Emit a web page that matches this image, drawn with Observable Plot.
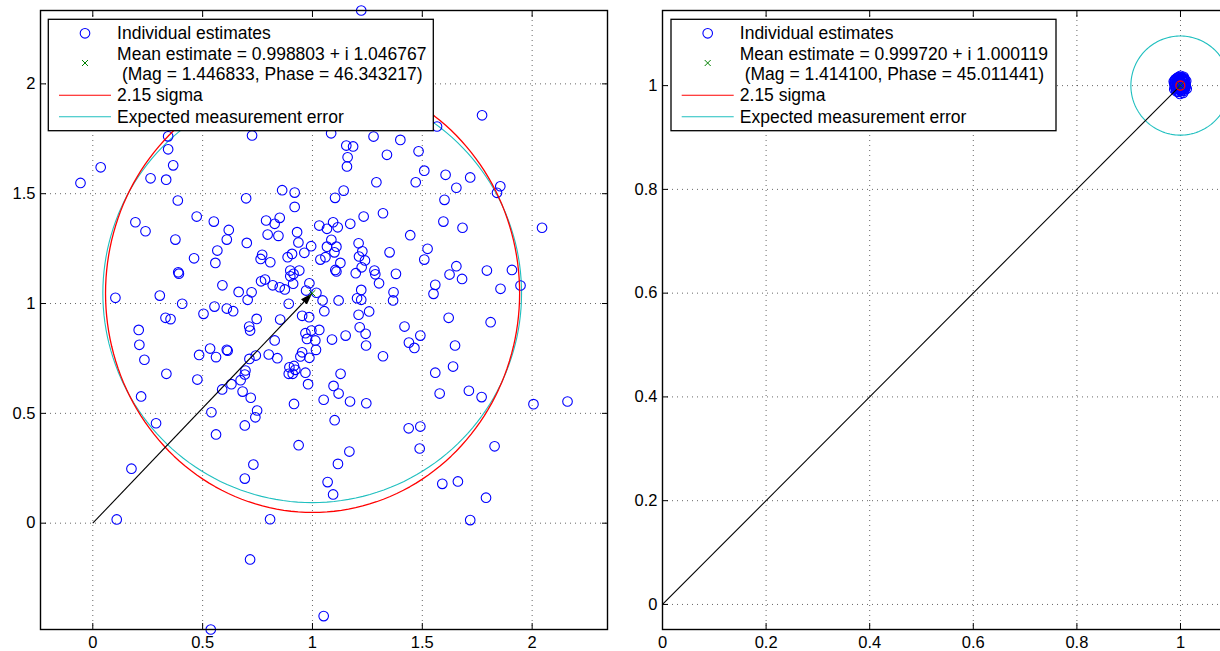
<!DOCTYPE html>
<html><head><meta charset="utf-8">
<script src="https://cdn.jsdelivr.net/npm/d3@7"></script>
<script src="https://cdn.jsdelivr.net/npm/@observablehq/plot@0.6"></script>
<style>
html,body{margin:0;padding:0;background:#fff;overflow:hidden;width:1220px;height:651px;}
#wrap{position:relative;width:1220px;height:651px;overflow:hidden;font-family:"Liberation Sans",Arial,Helvetica,sans-serif;}
#wrap svg{position:absolute;top:0;}
</style></head><body><div id="wrap"></div>
<script>
// ---------- Left panel: individual estimates (real, imag) ----------
const leftX = [0.343,0.725,0.343,0.036,0.366,-0.056,0.263,0.334,0.387,0.698,0.862,0.919,0.919,
1.222,1.772,1.567,1.085,1.278,1.400,1.154,1.185,1.160,1.157,1.339,1.483,1.509,1.606,1.718,1.655,1.855,1.840,1.601,1.470,1.291,1.142,1.103,
0.194,0.240,0.376,0.473,0.551,0.619,0.610,0.701,0.567,0.558,0.461,0.389,0.392,0.590,0.664,0.723,0.705,0.789,0.828,0.851,0.796,0.845,0.930,0.936,0.994,0.963,1.031,0.771,0.764,0.808,0.887,0.907,0.899,0.914,0.940,1.036,0.899,0.912,0.766,0.784,0.819,0.851,0.874,0.986,0.971,1.046,0.892,0.103,0.305,0.407,0.554,0.504,0.610,0.639,0.331,0.354,0.746,0.712,0.716,0.853,0.953,0.985,0.209,0.212,0.235,0.335,0.476,0.484,0.534,0.561,0.610,0.614,0.713,0.742,0.801,0.840,0.828,0.968,0.995,1.031,0.975,1.013,1.016,0.953,0.945,0.986,0.895,0.916,0.922,0.892,0.910,0.968,0.980,0.695,0.692,0.673,0.631,0.589,0.682,0.719,0.220,0.916,0.540,0.748,0.740,1.018,
1.066,1.094,1.115,1.172,1.233,1.321,1.086,1.066,1.109,1.100,1.059,1.127,1.104,1.109,1.210,1.227,1.212,1.239,1.224,1.197,1.282,1.286,1.303,1.380,1.351,1.445,1.524,1.509,1.596,1.683,1.222,1.203,1.222,1.119,1.054,1.369,1.367,1.258,1.210,1.215,1.242,1.244,1.151,1.089,1.321,1.419,1.491,1.439,1.464,1.559,1.551,1.624,1.655,1.681,1.794,1.856,1.908,1.947,2.045,1.620,1.811,1.649,1.640,1.559,1.579,1.712,1.770,2.006,2.161,1.128,1.096,1.119,1.051,1.171,1.245,1.101,
0.288,0.692,0.561,0.937,0.731,0.692,0.176,0.109,0.807,0.716,0.537,
1.438,1.491,1.488,1.168,1.116,1.069,1.094,1.591,1.662,1.829,1.790,1.718,1.051];
const leftY = [1.761,1.765,1.702,1.620,1.629,1.549,1.570,1.564,1.469,1.479,1.516,1.505,1.440,
2.334,1.857,1.806,1.775,1.760,1.745,1.719,1.715,1.666,1.624,1.677,1.693,1.605,1.586,1.574,1.527,1.534,1.504,1.472,1.552,1.552,1.514,1.481,
1.370,1.329,1.291,1.396,1.373,1.335,1.291,1.276,1.241,1.185,1.206,1.142,1.136,1.083,1.053,1.051,1.017,1.378,1.363,1.390,1.314,1.308,1.325,1.278,1.261,1.231,1.355,1.222,1.203,1.188,1.211,1.226,1.150,1.135,1.150,1.200,1.124,1.090,1.101,1.109,1.083,1.074,1.064,1.092,1.059,1.014,0.999,1.026,1.036,0.999,0.986,0.953,0.977,0.965,0.935,0.929,0.930,0.895,0.877,0.927,0.944,0.938,0.880,0.812,0.744,0.680,0.654,0.766,0.795,0.756,0.789,0.785,0.748,0.763,0.768,0.751,0.832,0.865,0.877,0.880,0.839,0.832,0.789,0.778,0.759,0.753,0.710,0.716,0.698,0.680,0.680,0.685,0.633,0.695,0.677,0.651,0.633,0.609,0.599,0.571,0.577,0.543,0.505,0.513,0.482,1.049,
1.340,1.370,1.347,1.363,1.396,1.411,1.290,1.259,1.259,1.233,1.211,1.185,1.153,1.146,1.274,1.238,1.214,1.196,1.165,1.138,1.150,1.133,1.092,1.135,1.233,1.311,1.249,1.200,1.373,1.345,1.062,1.024,1.017,1.014,0.965,1.051,1.014,0.964,0.949,0.892,0.862,0.809,0.854,0.836,0.760,0.895,0.854,0.822,0.798,1.085,1.044,1.132,1.170,1.112,1.150,1.067,1.153,1.082,1.345,0.935,0.915,0.809,0.713,0.685,0.590,0.603,0.574,0.542,0.554,0.680,0.625,0.590,0.562,0.554,0.546,0.469,
0.455,0.445,0.404,0.355,0.267,0.203,0.248,0.017,0.018,-0.165,-0.484,
0.432,0.440,0.340,0.326,0.270,0.187,0.131,0.179,0.190,0.350,0.116,0.014,-0.423];
const leftMean = [0.998803, 1.046767];
const leftSigmaCenter = [1.0005, 1.0468];
const leftSigmaRadii = [0.9425, 0.998];
const leftExpectedRadius = 0.953;
const leftXDomain = [-0.238, 2.343];
const leftYDomain = [-0.484, 2.334];
const leftXTicks = [0, 0.5, 1, 1.5, 2];
const leftYTicks = [0, 0.5, 1, 1.5, 2];

// ---------- Right panel ----------
const rightX = [1.000,0.995,1.006,0.992,1.003,0.998,1.009,0.990,1.002,0.996,1.011,0.988,1.005,0.994,1.008,0.991,1.001,0.997,1.004,0.993,1.010,0.999,1.007,0.989,1.003,0.996,1.012,0.992,1.000,1.006,0.987,0.998,1.002,0.995,1.009,
0.993,1.004,0.999,0.990,1.007,0.996,1.001,0.988,1.010,0.994,1.003,0.997,1.006,0.991,1.000,1.008,0.995,0.989,1.005,0.998,1.002,0.993,1.009,0.996,1.004,0.991,1.001,0.997,1.007,0.994,0.999,1.003,0.990,1.006,0.996];
const rightY = [1.000,1.008,1.004,0.997,0.991,1.013,0.996,1.005,1.016,0.988,1.009,0.993,0.986,1.015,1.012,1.011,1.006,0.995,0.998,1.002,1.001,0.984,0.990,0.999,1.010,1.004,0.994,0.989,1.019,1.017,1.008,0.992,1.002,0.999,1.007,
1.003,1.013,1.009,1.001,1.003,0.994,0.997,1.004,0.998,1.007,1.015,1.017,1.009,0.993,0.993,0.993,1.011,1.010,1.001,1.004,1.012,1.014,1.002,1.001,0.994,0.996,0.989,1.009,1.014,1.006,0.996,1.005,1.012,0.997,1.016];
const rightMean = [0.999720, 1.000119];
const rightSigmaRadii = [0.0085, 0.0088];
const rightExpectedRadius = 0.0955;
const rightXDomain = [0, 1.1448];
const rightYDomain = [-0.0483, 1.1448];
const rightTicks = [0, 0.2, 0.4, 0.6, 0.8, 1];

const origin = [0, 0];
const legendLeft = ["Individual estimates", "Mean estimate = 0.998803 + i 1.046767", " (Mag = 1.446833, Phase = 46.343217)", "2.15 sigma", "Expected measurement error"];
const legendRight = ["Individual estimates", "Mean estimate = 0.999720 + i 1.000119", " (Mag = 1.414100, Phase = 45.011441)", "2.15 sigma", "Expected measurement error"];

const BLUE = "#0000ff", RED = "#ff0000", CYAN = "#1fbfbf", GREEN = "#008000";

function ellipse(c, rx, ry) {
  return d3.range(0, 361, 2).map(a => [c[0] + rx * Math.cos(a * Math.PI / 180), c[1] + ry * Math.sin(a * Math.PI / 180)]);
}

function fillArrowMarkers(svg) {
  svg.querySelectorAll("marker").forEach(m => {
    m.setAttribute("viewBox", "-12 -5 12 10");
    m.setAttribute("markerUnits", "userSpaceOnUse");
    m.setAttribute("markerWidth", "12");
    m.setAttribute("markerHeight", "10");
    m.setAttribute("refX", "0");
    m.setAttribute("refY", "0");
    m.setAttribute("fill", "black");
    m.setAttribute("stroke", "none");
    const p = m.querySelector("path");
    if (p) p.setAttribute("d", "M-12,-4L0,0L-12,4Z");
  });
}

function panel({xs, ys, mean, sigmaCenter, sigmaRadii, expectedRadius, xDomain, yDomain, xTicks, yTicks, width, marginLeft, marginRight, tight}) {
  const gridStyle = {stroke: "#000", strokeOpacity: 0.6, strokeDasharray: "1,4"};
  const fmt = d => String(d);
  const cyanPts = ellipse(mean, expectedRadius, expectedRadius);
  const redPts = ellipse(sigmaCenter, sigmaRadii[0], sigmaRadii[1]);
  const dotsMark = Plot.dot(xs, {x: d => d, y: (d, i) => ys[i], r: 4.8, stroke: BLUE, fill: "none", strokeWidth: 1.1});
  const marks = [
    Plot.gridX(xTicks, gridStyle),
    Plot.gridY(yTicks, gridStyle),
  ];
  if (tight) {
    marks.push(
      Plot.line(cyanPts, {x: d => d[0], y: d => d[1], stroke: CYAN, strokeWidth: 1.1}),
      dotsMark,
      Plot.link([mean], {x1: () => origin[0], y1: () => origin[1], x2: d => d[0], y2: d => d[1], stroke: "black", strokeWidth: 1.1}),
      Plot.line(redPts, {x: d => d[0], y: d => d[1], stroke: RED, strokeWidth: 1.3}));
  } else {
    marks.push(
      Plot.line(cyanPts, {x: d => d[0], y: d => d[1], stroke: CYAN, strokeWidth: 1.1}),
      dotsMark,
      Plot.line(redPts, {x: d => d[0], y: d => d[1], stroke: RED, strokeWidth: 1.3}),
      Plot.link([mean], {x1: () => origin[0], y1: () => origin[1], x2: d => d[0], y2: d => d[1], stroke: "black", strokeWidth: 1.1, markerEnd: "arrow"}));
  }
  marks.push(
    Plot.dot([mean], {x: d => d[0], y: d => d[1], symbol: "times", r: 3, stroke: GREEN, strokeWidth: 1}),
    Plot.frame({stroke: "black", strokeWidth: 1.4}),
    Plot.axisX(xTicks, {anchor: "bottom", tickSize: -6, tickFormat: () => "", label: null, stroke: "black"}),
    Plot.axisX(xTicks, {anchor: "top", tickSize: -6, tickFormat: () => "", label: null, stroke: "black"}),
    Plot.axisY(yTicks, {anchor: "left", tickSize: -6, tickFormat: () => "", label: null, stroke: "black"}),
    Plot.axisY(yTicks, {anchor: "right", tickSize: -6, tickFormat: () => "", label: null, stroke: "black"}),
    Plot.axisX(xTicks, {anchor: "bottom", tickSize: 0, tickPadding: 7, tickFormat: fmt, label: null, fill: "black"}),
    Plot.axisY(yTicks, {anchor: "left", tickSize: 0, tickPadding: 5, tickFormat: fmt, label: null, fill: "black"})
  );
  const svg = Plot.plot({
    width, height: 651,
    marginLeft, marginRight, marginTop: 10, marginBottom: 22,
    x: {domain: xDomain},
    y: {domain: yDomain},
    style: {fontSize: "16.5px", fontFamily: "'Liberation Sans', Arial, sans-serif", color: "black", background: "transparent", overflow: "visible"},
    marks
  });
  fillArrowMarkers(svg);
  return svg;
}

const wrap = document.getElementById("wrap");

const left = panel({xs: leftX, ys: leftY, mean: leftMean, sigmaCenter: leftSigmaCenter, sigmaRadii: leftSigmaRadii,
  expectedRadius: leftExpectedRadius, xDomain: leftXDomain, yDomain: leftYDomain, xTicks: leftXTicks, yTicks: leftYTicks,
  width: 620, marginLeft: 40, marginRight: 13, tight: false});
left.style.left = "0px";
wrap.appendChild(left);

const right = panel({xs: rightX, ys: rightY, mean: rightMean, sigmaCenter: rightMean, sigmaRadii: rightSigmaRadii,
  expectedRadius: rightExpectedRadius, xDomain: rightXDomain, yDomain: rightYDomain, xTicks: rightTicks, yTicks: rightTicks,
  width: 640, marginLeft: 42, marginRight: 5, tight: true});
right.style.left = "620px";
wrap.appendChild(right);

// ---------- Legends (overlay) ----------
const ov = d3.select(wrap).append("svg").attr("width", 1220).attr("height", 651).style("left", "0px")
  .style("font-family", "'Liberation Sans', Arial, sans-serif").style("font-size", "17.5px");
function drawLegend(lx, labels) {
  const g = ov.append("g").attr("transform", `translate(${lx},0)`);
  g.append("rect").attr("x", 0).attr("y", 19.3).attr("width", 385).attr("height", 111.4)
    .attr("fill", "white").attr("stroke", "black").attr("stroke-width", 1.3);
  g.append("circle").attr("cx", 36.7).attr("cy", 33.3).attr("r", 4.8).attr("fill", "none").attr("stroke", BLUE).attr("stroke-width", 1.1);
  g.append("path").attr("d", "M33.7,60L39.7,66M33.7,66L39.7,60").attr("stroke", GREEN).attr("stroke-width", 1);
  g.append("line").attr("x1", 10.7).attr("x2", 62.7).attr("y1", 95.3).attr("y2", 95.3).attr("stroke", RED).attr("stroke-width", 1.1);
  g.append("line").attr("x1", 10.7).attr("x2", 62.7).attr("y1", 116.7).attr("y2", 116.7).attr("stroke", CYAN).attr("stroke-width", 1.1);
  const baselines = [39.3, 60, 80, 101, 122.7];
  labels.forEach((t, i) => {
    g.append("text").attr("x", 68.8).attr("y", baselines[i]).style("white-space", "pre").attr("fill", "black").text(t);
  });
}
drawLegend(48.3, legendLeft);
drawLegend(671, legendRight);
</script></body></html>
